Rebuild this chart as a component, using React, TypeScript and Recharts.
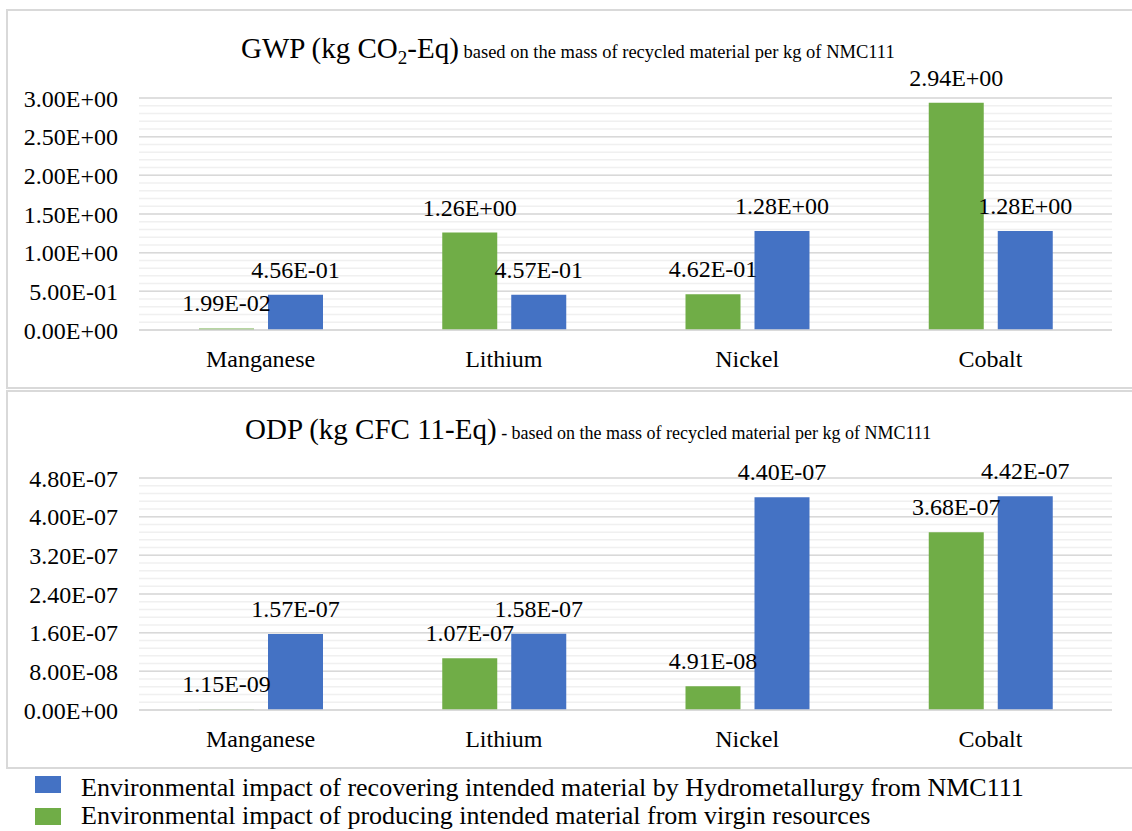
import { BarChart, Bar, XAxis, YAxis, CartesianGrid, LabelList } from 'recharts';

const categories = ['Manganese', 'Lithium', 'Nickel', 'Cobalt'];

// GWP (kg CO2-Eq)
const gwpVirgin = [1.99e-2, 1.26, 4.62e-1, 2.94];
const gwpHydro = [4.56e-1, 4.57e-1, 1.28, 1.28];
const gwpTicks = [0, 0.5, 1, 1.5, 2, 2.5, 3];

// ODP (kg CFC 11-Eq)
const odpVirgin = [1.15e-9, 1.07e-7, 4.91e-8, 3.68e-7];
const odpHydro = [1.57e-7, 1.58e-7, 4.4e-7, 4.42e-7];
const odpTicks = [0, 8e-8, 1.6e-7, 2.4e-7, 3.2e-7, 4e-7, 4.8e-7];

const legendItems = [
  { label: 'Environmental impact of recovering intended material by Hydrometallurgy from NMC111', color: '#4472C4' },
  { label: 'Environmental impact of producing intended material from virgin resources', color: '#70AD47' },
];

const FONT = "'Liberation Serif', 'Times New Roman', serif";
const GREEN = '#70AD47';
const BLUE = '#4472C4';
const TEXT_SIZE = 24;

const sci = (v: number) => {
  if (v === 0) return '0.00E+00';
  const [m, e] = v.toExponential(2).split('e');
  const n = parseInt(e, 10);
  return `${m}E${n < 0 ? '-' : '+'}${String(Math.abs(n)).padStart(2, '0')}`;
};

// minor gridlines: 5 per major step
const minorOf = (ticks: number[]) => {
  const step = (ticks[1] - ticks[0]) / 5;
  const n = (ticks.length - 1) * 5;
  return Array.from({ length: n + 1 }, (_, i) => i * step);
};

const renderLabel = (props: any) => {
  const { x, y, width, value } = props;
  return (
    <text
      x={Number(x) + Number(width) / 2}
      y={Number(y) - 17}
      textAnchor="middle"
      fill="#000"
      fontSize={TEXT_SIZE}
      fontFamily={FONT}
    >
      {sci(Number(value))}
    </text>
  );
};

function Panel({
  virgin,
  hydro,
  ticks,
  height,
  top,
}: {
  virgin: number[];
  hydro: number[];
  ticks: number[];
  height: number;
  top: number;
}) {
  const data = categories.map((name, i) => ({ name, virgin: virgin[i], hydro: hydro[i] }));
  const tickStyle = { fill: '#000', fontSize: TEXT_SIZE, fontFamily: FONT };
  return (
    <BarChart
      width={1132}
      height={height}
      data={data}
      margin={{ top, right: 20, left: 0, bottom: 8 }}
      barGap={14}
      style={{ fontFamily: FONT }}
    >
      <CartesianGrid vertical={false} horizontalValues={minorOf(ticks)} stroke="#f0f0f0" strokeWidth={1.5} />
      <CartesianGrid vertical={false} horizontalValues={ticks} stroke="#d9d9d9" strokeWidth={1.5} />
      <XAxis
        dataKey="name"
        tick={tickStyle}
        tickLine={false}
        tickSize={0}
        tickMargin={20}
        height={50}
        axisLine={{ stroke: '#d9d9d9', strokeWidth: 1.5 }}
      />
      <YAxis
        domain={[ticks[0], ticks[ticks.length - 1]]}
        ticks={ticks}
        interval={0}
        tick={tickStyle}
        tickFormatter={sci}
        tickLine={false}
        axisLine={false}
        tickSize={0}
        tickMargin={21}
        width={139}
      />
      <Bar dataKey="virgin" fill={GREEN} barSize={55} isAnimationActive={false}>
        <LabelList dataKey="virgin" content={renderLabel} />
      </Bar>
      <Bar dataKey="hydro" fill={BLUE} barSize={55} isAnimationActive={false}>
        <LabelList dataKey="hydro" content={renderLabel} />
      </Bar>
    </BarChart>
  );
}

export default function App() {
  return (
    <div
      style={{
        position: 'absolute',
        left: 0,
        top: 0,
        width: 1132,
        height: 831,
        background: '#fff',
        fontFamily: FONT,
        overflow: 'hidden',
      }}
    >
      <svg width={1132} height={831} style={{ position: 'absolute', left: 0, top: 0 }}>
        <rect x={7} y={10} width={1140} height={378} fill="none" stroke="#d9d9d9" strokeWidth={2} />
        <rect x={7} y={391} width={1140} height={377} fill="none" stroke="#d9d9d9" strokeWidth={2} />
        <text x={241} y={58} fontFamily={FONT} fill="#000">
          <tspan fontSize={29}>GWP (kg CO</tspan>
          <tspan fontSize={19} dy={6}>2</tspan>
          <tspan fontSize={29} dy={-6}>-Eq)</tspan>
          <tspan fontSize={18.5}> based on the mass of recycled material per kg of NMC111</tspan>
        </text>
        <text x={245} y={439} fontFamily={FONT} fill="#000">
          <tspan fontSize={29}>ODP (kg CFC 11-Eq)</tspan>
          <tspan fontSize={18}> - based on the mass of recycled material per kg of NMC111</tspan>
        </text>
        {legendItems.map((item, i) => (
          <g key={item.label}>
            <rect x={35} y={776 + i * 32} width={26} height={17} fill={item.color} />
            <text x={81} y={796 + i * 28} fontSize={26} fontFamily={FONT} fill="#000">
              {item.label}
            </text>
          </g>
        ))}
      </svg>
      <div style={{ position: 'absolute', left: 0, top: 0 }}>
        <Panel virgin={gwpVirgin} hydro={gwpHydro} ticks={gwpTicks} height={388} top={98} />
      </div>
      <div style={{ position: 'absolute', left: 0, top: 391 }}>
        <Panel virgin={odpVirgin} hydro={odpHydro} ticks={odpTicks} height={377} top={87} />
      </div>
    </div>
  );
}
